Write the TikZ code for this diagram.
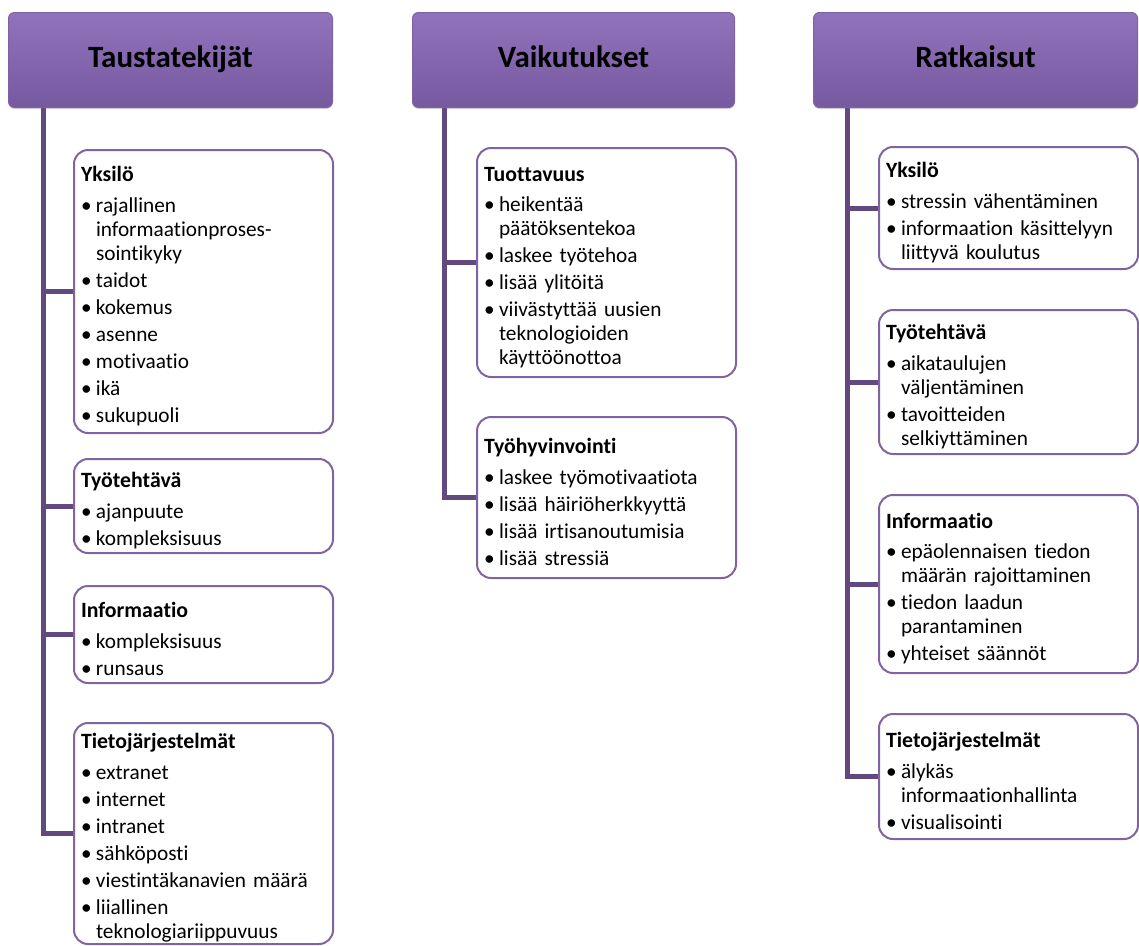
\documentclass[tikz,border=0pt]{standalone}
\usepackage{fontspec}
\setmainfont{Carlito}[Ligatures={NoCommon}]
\usetikzlibrary{shadows}
\definecolor{hdtop}{HTML}{9173BC}
\definecolor{hdbot}{HTML}{7759A0}
\definecolor{hdedge}{HTML}{7E62A4}
\definecolor{boxedge}{HTML}{8064A2}
\definecolor{trunkcol}{HTML}{62497F}
% heading line (with extra head room) and bullet item inside a box
\newcommand{\hd}[1]{\noindent\rule{0pt}{24pt}{\fontsize{21.8}{24}\selectfont\textbf{#1}}\par\vspace{3.5pt}}
\newcommand{\bl}[1]{\hangindent=15pt\hangafter=1\noindent\makebox[15pt][l]{\textbullet}#1\par}
\tikzset{
  header/.style={draw=hdedge, line width=1pt, rounded corners=6pt,
    top color=hdtop, bottom color=hdbot, anchor=north west,
    minimum height=95pt, inner sep=0pt, text height=22pt, text depth=7pt,
    font=\fontsize{31}{36}\selectfont\bfseries,
    drop shadow={shadow xshift=0pt, shadow yshift=-1.5pt, opacity=0.25, fill=black!60}},
  itembox/.style={draw=boxedge, line width=2pt, rounded corners=14pt, fill=white,
    anchor=north west, minimum width=259pt, text width=245pt,
    inner xsep=7pt, inner ysep=0pt, align=left,
    font=\fontsize{21.3}{24}\selectfont\setlength{\parskip}{3pt}},
  trunk/.style={draw=trunkcol, line width=5pt}
}
\begin{document}
\begin{tikzpicture}[x=1pt, y=-1pt]
\useasboundingbox (0,0) rectangle (1139,945);

% trunk positions (x) of the three columns
\coordinate (s1) at (43,107);
\coordinate (s2) at (444,107);
\coordinate (s3) at (847,107);

% column headers
\node[header, minimum width=324pt] (h1) at (8,12) {Taustatekijät};
\node[header, minimum width=322pt] (h2) at (412,12) {Vaikutukset};
\node[header, minimum width=324pt] (h3) at (813,12) {Ratkaisut};

% left column
\node[itembox, minimum height=283pt] (a1) at (73,149) {%
  \hd{Yksilö}
  \bl{rajallinen\newline informaationproses-\newline sointikyky}
  \bl{taidot}
  \bl{kokemus}
  \bl{asenne}
  \bl{motivaatio}
  \bl{ikä}
  \bl{sukupuoli}};
\node[itembox, minimum height=94pt] (a2) at (73,458) {%
  \hd{Työtehtävä}
  \bl{ajanpuute}
  \bl{kompleksisuus}};
\node[itembox, minimum height=97pt] (a3) at (73,585) {%
  \hd{Informaatio}
  \bl{kompleksisuus}
  \bl{runsaus}};
\node[itembox, minimum height=221pt] (a4) at (73,722) {%
  \hd{Tietojärjestelmät}
  \bl{extranet}
  \bl{internet}
  \bl{intranet}
  \bl{sähköposti}
  \bl{viestintäkanavien määrä}
  \bl{liiallinen\newline teknologiariippuvuus}};

% middle column
\node[itembox, minimum width=258pt, minimum height=229pt] (m1) at (476,147) {%
  \hd{Tuottavuus}
  \bl{heikentää\newline päätöksentekoa}
  \bl{laskee työtehoa}
  \bl{lisää ylitöitä}
  \bl{viivästyttää uusien\newline teknologioiden\newline käyttöönottoa}};
\node[itembox, minimum width=258pt, minimum height=161pt] (m2) at (476,416) {%
  \hd{Työhyvinvointi}
  \bl{laskee työmotivaatiota}
  \bl{lisää häiriöherkkyyttä}
  \bl{lisää irtisanoutumisia}
  \bl{lisää stressiä}};

% right column
\node[itembox, minimum height=122pt] (r1) at (878,146) {%
  \hd{Yksilö}
  \bl{stressin vähentäminen}
  \bl{informaation käsittelyyn\newline liittyvä koulutus}};
\node[itembox, minimum height=144pt] (r2) at (878,309) {%
  \hd{Työtehtävä}
  \bl{aikataulujen\newline väljentäminen}
  \bl{tavoitteiden\newline selkiyttäminen}};
\node[itembox, minimum height=178pt] (r3) at (878,494) {%
  \hd{Informaatio}
  \bl{epäolennaisen tiedon\newline määrän rajoittaminen}
  \bl{tiedon laadun\newline parantaminen}
  \bl{yhteiset säännöt}};
\node[itembox, minimum height=125pt] (r4) at (878,713) {%
  \hd{Tietojärjestelmät}
  \bl{älykäs\newline informaationhallinta}
  \bl{visualisointi}};

% trunk down from each header, branch into each box
\foreach \b in {a1,a2,a3,a4} \draw[trunk] (s1 |- h1.south) |- (\b.west);
\foreach \b in {m1,m2} \draw[trunk] (s2 |- h2.south) |- (\b.west);
\foreach \b in {r1,r2,r3,r4} \draw[trunk] (s3 |- h3.south) |- (\b.west);
\end{tikzpicture}
\end{document}
